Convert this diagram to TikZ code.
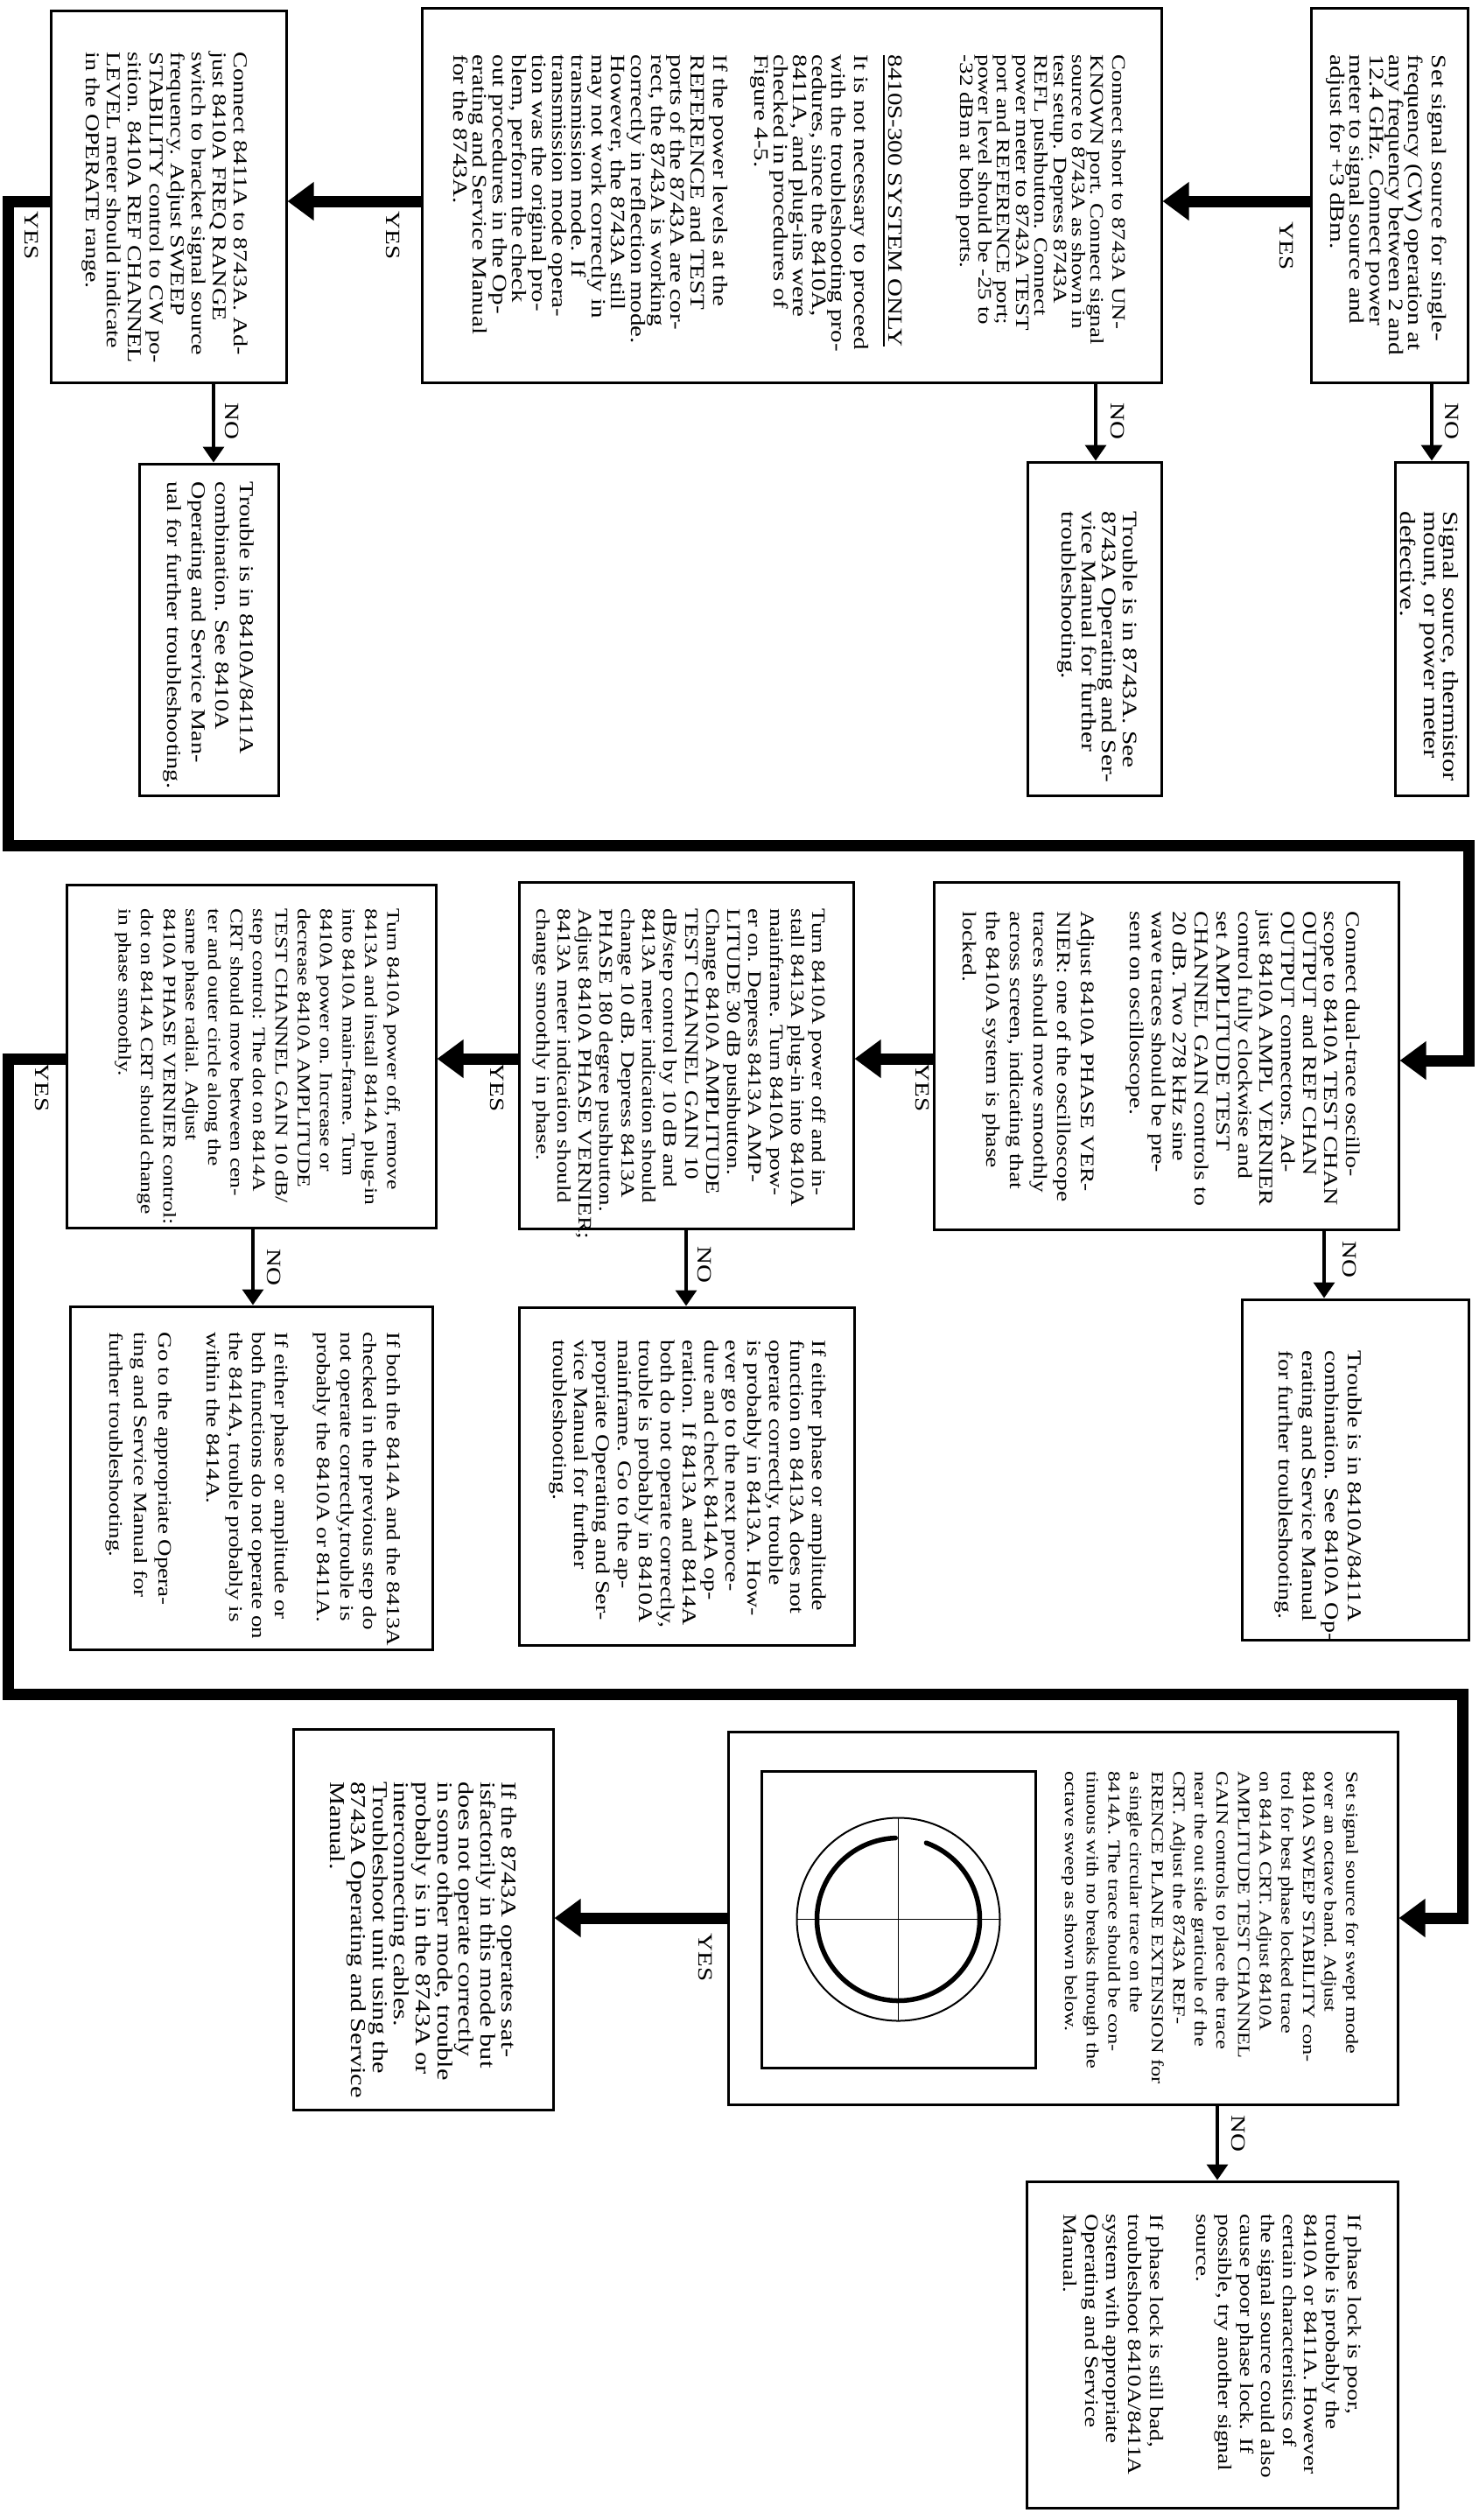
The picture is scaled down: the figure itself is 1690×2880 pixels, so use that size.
\documentclass[tikz,border=0pt]{standalone}
\usepackage{fontspec}
\newfontfamily\tfont{Liberation Serif}[FakeStretch=1.25]
\usetikzlibrary{arrows.meta,fit}
\begin{document}
\begin{tikzpicture}[x=0.1mm,y=-0.1mm,
  bx/.style={draw, line width=0.3mm, inner sep=0pt},
  tx/.style 2 args={rotate=-90, anchor=north west, inner sep=0pt, align=left, font=\tfont\fontsize{#1pt}{#2pt}\selectfont},
  lbl/.style={rotate=-90, inner sep=0pt, font=\tfont\fontsize{6.6pt}{7pt}\selectfont},
  yesarr/.style={line width=1.3mm, line join=miter, -{Triangle[length=3mm,width=4.2mm]}},
  noarr/.style={line width=0.35mm, -{Triangle[length=1.8mm,width=2.4mm]}}]
\fill[white] (0,0) rectangle (1690,2880);
\useasboundingbox (0,0) rectangle (1690,2880);

% ---------- boxes ----------
\node[bx, fit={(1498,9) (1677,437)}] (bA) {};
\node[bx, fit={(1594,528) (1677,909)}] (bAn) {};
\node[bx, fit={(482,9) (1327,437)}] (bB) {};
\node[bx, fit={(1174,528) (1327,909)}] (bBn) {};
\node[bx, fit={(58,12) (327,437)}] (bC) {};
\node[bx, fit={(159,530) (318,909)}] (bCn) {};
\node[bx, fit={(1067,1008) (1598,1405)}] (bD) {};
\node[bx, fit={(1419,1485) (1678,1874)}] (bDn) {};
\node[bx, fit={(593,1008) (975,1404)}] (bE) {};
\node[bx, fit={(593,1494) (976,1880)}] (bEn) {};
\node[bx, fit={(76,1011) (498,1403)}] (bF) {};
\node[bx, fit={(80,1493) (494,1885)}] (bFn) {};
\node[bx, fit={(832,1979) (1597,2405)}] (bG) {};
\node[bx, fit={(1173,2493) (1597,2866)}] (bGn) {};
\node[bx, fit={(335,1976) (632,2411)}] (bH) {};

% ---------- CRT picture ----------
\node[bx, fit={(870,2024) (1183,2363)}] (crt) {};
\draw[line width=0.2mm] (crt.center) circle[radius=116];
\draw[line width=0.15mm] (crt.center) ++(-116,0) -- ++(232,0);
\draw[line width=0.15mm] (crt.center) ++(0,-116) -- ++(0,232);
\draw[line width=0.55mm, line cap=round] (crt.center) ++(-92:93) arc[start angle=-92, end angle=-430, radius=93];

% ---------- texts ----------
\node[tx={6.67}{6.32}] (tA) at (1653.5,62) {\strut Set signal source for single-\\
frequency (CW) operation at\\
any frequency between 2 and\\
12.4 GHz. Connect power\\
meter to signal source and\\
adjust for +3 dBm.};

\node[tx={7.0}{6.26}] (tAn) at (1666.8,584) {\strut Signal source, thermistor\\
mount, or power meter\\
defective.};

\node[tx={6.15}{6.09}] (tB) at (1287.5,62) {\strut Connect short to 8743A UN-\\
KNOWN port. Connect signal\\
source to 8743A as shown in\\
test setup. Depress 8743A\\
REFL pushbutton. Connect\\
power meter to 8743A TEST\\
port and REFERENCE port;\\
power level should be -25 to\\
-32 dBm at both ports.};

\node[tx={6.6}{6.26}] (tB2) at (1031.4,62) {\strut\underline{8410S-300 SYSTEM ONLY}};

\node[tx={6.6}{6.26}] (tB3) at (993.4,62) {\strut It is not necessary to proceed\\
with the troubleshooting pro-\\
cedures, since the 8410A,\\
8411A, and plug-ins were\\
checked in procedures of\\
Figure 4-5.};

\node[tx={6.6}{6.43}] (tB4) at (832.8,62) {\strut If the power levels at the\\
REFERENCE and TEST\\
ports of the 8743A are cor-\\
rect, the 8743A is working\\
correctly in reflection mode.\\
However, the 8743A still\\
may not work correctly in\\
transmission mode. If\\
transmission mode opera-\\
tion was the original pro-\\
blem, perform the check\\
out procedures in the Op-\\
erating and Service Manual\\
for the 8743A.};

\node[tx={6.67}{6.63}] (tBn) at (1300.3,584) {\strut Trouble is in 8743A. See\\
8743A Operating and Ser-\\
vice Manual for further\\
troubleshooting.};

\node[tx={6.4}{6.86}] (tC) at (285.1,59) {\strut Connect 8411A to 8743A. Ad-\\
just 8410A FREQ RANGE\\
switch to bracket signal source\\
frequency. Adjust SWEEP\\
STABILITY control to CW po-\\
sition. 8410A REF CHANNEL\\
LEVEL meter should indicate\\
in the OPERATE range.};

\node[tx={6.44}{7.85}] (tCn) at (294.5,550) {\strut Trouble is in 8410A/8411A\\
combination. See 8410A\\
Operating and Service Man-\\
ual for further troubleshooting.};

\node[tx={6.37}{7.03}] (tD) at (1556.6,1041) {\strut Connect dual-trace oscillo-\\
scope to 8410A TEST CHAN\\
OUTPUT and REF CHAN\\
OUTPUT connectors. Ad-\\
just 8410A AMPL VERNIER\\
control fully clockwise and\\
set AMPLITUDE TEST\\
CHANNEL GAIN controls to\\
20 dB. Two 278 kHz sine\\
wave traces should be pre-\\
sent on oscilloscope.};

\node[tx={6.26}{7.68}] (tD2) at (1255.3,1041) {\strut Adjust 8410A PHASE VER-\\
NIER: one of the oscilloscope\\
traces should move smoothly\\
across screen, indicating that\\
the 8410A system is phase\\
locked.};

\node[tx={6.4}{7.48}] (tDn) at (1559.7,1543) {\strut Trouble is in 8410A/8411A\\
combination. See 8410A Op-\\
erating and Service Manual\\
for further troubleshooting.};

\node[tx={6.17}{6.91}] (tE) at (946.5,1038) {\strut Turn 8410A power off and in-\\
stall 8413A plug-in into 8410A\\
mainframe. Turn 8410A pow-\\
er on. Depress 8413A AMP-\\
LITUDE 30 dB pushbutton.\\
Change 8410A AMPLITUDE\\
TEST CHANNEL GAIN 10\\
dB/step control by 10 dB and\\
8413A meter indication should\\
change 10 dB. Depress 8413A\\
PHASE 180 degree pushbutton.\\
Adjust 8410A PHASE VERNIER;\\
8413A meter indication should\\
change smoothly in phase.};

\node[tx={6.37}{7.03}] (tEn) at (946.6,1531) {\strut If either phase or amplitude\\
function on 8413A does not\\
operate correctly, trouble\\
is probably in 8413A. How-\\
ever go to the next proce-\\
dure and check 8414A op-\\
eration. If 8413A and 8414A\\
both do not operate correctly,\\
trouble is probably in 8410A\\
mainframe. Go to the ap-\\
propriate Operating and Ser-\\
vice Manual for further\\
troubleshooting.};

\node[tx={5.83}{7.28}] (tF) at (461.3,1038) {\strut Turn 8410A power off, remove\\
8413A and install 8414A plug-in\\
into 8410A main-frame. Turn\\
8410A power on. Increase or\\
decrease 8410A AMPLITUDE\\
TEST CHANNEL GAIN 10 dB/\\
step control: The dot on 8414A\\
CRT should move between cen-\\
ter and outer circle along the\\
same phase radial. Adjust\\
8410A PHASE VERNIER control:\\
dot on 8414A CRT should change\\
in phase smoothly.};

\node[tx={6.15}{7.54}] (tFn1) at (461.6,1522) {\strut If both the 8414A and the 8413A\\
checked in the previous step do\\
not operate correctly,trouble is\\
probably the 8410A or 8411A.};

\node[tx={6.15}{7.40}] (tFn2) at (333.7,1522) {\strut If either phase or amplitude or\\
both functions do not operate on\\
the 8414A, trouble probably is\\
within the 8414A.};

\node[tx={6.15}{7.97}] (tFn3) at (202.1,1522) {\strut Go to the appropriate Opera-\\
ting and Service Manual for\\
further troubleshooting.};

\node[tx={5.55}{7.03}] (tG) at (1556.4,2024) {\strut Set signal source for swept mode\\
over an octave band. Adjust\\
8410A SWEEP STABILITY con-\\
trol for best phase locked trace\\
on 8414A CRT. Adjust 8410A\\
AMPLITUDE TEST CHANNEL\\
GAIN controls to place the trace\\
near the out side graticule of the\\
CRT. Adjust the 8743A REF-\\
ERENCE PLANE EXTENSION for\\
a single circular trace on the\\
8414A. The trace should be con-\\
tinuous with no breaks through the\\
octave sweep as shown below.};

\node[tx={6.2}{7.00}] (tGn1) at (1558,2530) {\strut If phase lock is poor,\\
trouble is probably the\\
8410A or 8411A. However\\
certain characteristics of\\
the signal source could also\\
cause poor phase lock. If\\
possible, try another signal\\
source.};

\node[tx={6.2}{7.00}] (tGn2) at (1332,2530) {\strut If phase lock is still bad,\\
troubleshoot 8410A/8411A\\
system with appropriate\\
Operating and Service\\
Manual.};

\node[tx={6.9}{7.0}] (tH) at (591.8,2036) {\strut If the 8743A operates sat-\\
isfactorily in this mode but\\
does not operate correctly\\
in some other mode, trouble\\
probably is in the 8743A or\\
interconnecting cables.\\
Troubleshoot unit using the\\
8743A Operating and Service\\
Manual.};

% ---------- YES connectors ----------
\coordinate (r1) at (0,230);
\coordinate (L1) at (9,966);
\coordinate (R1) at (1678,1212);
\coordinate (r2) at (0,1210);
\coordinate (L2) at (9,1936);
\coordinate (R2) at (1671,2192);
\draw[yesarr] (bA.west |- r1) -- (bB.east |- r1);
\draw[yesarr] (bB.west |- r1) -- (bC.east |- r1);
\draw[yesarr] (bC.west |- r1) -| (L1) -| (R1) -- (bD.east |- R1);
\draw[yesarr] (bD.west |- r2) -- (bE.east |- r2);
\draw[yesarr] (bE.west |- r2) -- (bF.east |- r2);
\draw[yesarr] (bF.west |- r2) -| (L2) -| (R2) -- (bG.east |- R2);
\draw[yesarr] (bG.west |- R2) -- (bH.east |- R2);

% ---------- NO connectors ----------
\coordinate (nA) at (1636,0);
\coordinate (nB) at (1252,0);
\coordinate (nC) at (244,0);
\coordinate (nD) at (1513,0);
\coordinate (nE) at (784,0);
\coordinate (nF) at (289,0);
\coordinate (nG) at (1391,0);
\draw[noarr] (bA.south -| nA) -- (bAn.north -| nA);
\draw[noarr] (bB.south -| nB) -- (bBn.north -| nB);
\draw[noarr] (bC.south -| nC) -- (bCn.north -| nC);
\draw[noarr] (bD.south -| nD) -- (bDn.north -| nD);
\draw[noarr] (bE.south -| nE) -- (bEn.north -| nE);
\draw[noarr] (bF.south -| nF) -- (bFn.north -| nF);
\draw[noarr] (bG.south -| nG) -- (bGn.north -| nG);

% ---------- labels ----------
\node[lbl] (yA) at (1470,281) {YES};
\node[lbl] (yB) at (449,269) {YES};
\node[lbl] (yC) at (36,269) {YES};
\node[lbl] (yD) at (1054,1243) {YES};
\node[lbl] (yE) at (568,1243) {YES};
\node[lbl] (yF) at (48,1243) {YES};
\node[lbl] (yG) at (806,2237) {YES};
\node[lbl] (nlA) at (1659,481) {NO};
\node[lbl] (nlB) at (1277,481) {NO};
\node[lbl] (nlC) at (265,481) {NO};
\node[lbl] (nlD) at (1542,1439) {NO};
\node[lbl] (nlE) at (805,1445) {NO};
\node[lbl] (nlF) at (313,1448) {NO};
\node[lbl] (nlG) at (1415,2438) {NO};
\end{tikzpicture}
\end{document}
